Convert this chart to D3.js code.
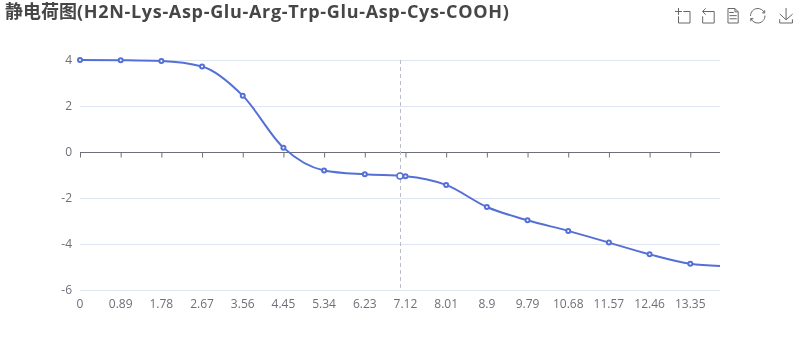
<!DOCTYPE html>
<html>
<head>
<meta charset="utf-8">
<script src="https://cdn.jsdelivr.net/npm/d3@7/dist/d3.min.js"></script>
<style>html,body{margin:0;padding:0;background:#fff}svg{display:block;will-change:transform}</style>
</head>
<body>
<svg id="chart" width="800" height="360"></svg>
<script>
const titleCjk = "静电荷图";
const titleLatin = "(H2N-Lys-Asp-Glu-Arg-Trp-Glu-Asp-Cys-COOH)";
const phValues = [0,0.89,1.78,2.67,3.56,4.45,5.34,6.23,7.12,8.01,8.9,9.79,10.68,11.57,12.46,13.35];
const chargeValues = [4.0,3.99,3.96,3.72,2.45,0.19,-0.8,-0.97,-1.05,-1.43,-2.39,-2.97,-3.43,-3.94,-4.45,-4.86];
const endPh = 14;
const endCharge = -4.96;
const yTicks = [4,2,0,-2,-4,-6];
const hoverPh = 7.0;
const hoverCharge = -1.04;
const icons = [
 "M0,13.5h26.9 M13.5,26.9V0 M32.1,13.5H58V58H13.5 V32.1",
 "M22,1.4L9.9,13.5l12.3,12.3 M10.3,13.5H54.9v44.6 H10.3v-26",
 "M17.5,17.3H33 M17.5,17.3H33 M45.4,29.5h-28 M11.5,2v56H51V14.8L38.4,2H11.5z M38.4,2.2v12.7H51 M45.4,41.7h-28",
 "M3.8,33.4 M47,18.9h9.8V8.7 M56.3,20.1 C52.1,9,40.5,0.6,26.8,2.1C12.6,3.7,1.6,16.2,2.1,30.6 M13,41.1H3.1v10.2 M3.7,39.9c4.2,11.1,15.8,19.5,29.5,18 c14.2-1.6,25.2-14.1,24.7-28.5",
 "M4.7,22.9L29.3,45.5L54.7,23.4M4.6,43.6L4.6,58L53.8,58L53.8,43.6M29.2,45.1L29.2,0"
];
const iconX = [675,700,725,750,778.5];
const axisColor = "#6E7079", gridColor = "#E0E6F1", lineColor = "#5470D6";
const font = "'Open Sans','Noto Sans CJK SC',sans-serif";

const svg = d3.select("#chart");
const x = d3.scaleLinear().domain([0,endPh]).range([80,720]);
const y = d3.scaleLinear().domain([-6,4]).range([290,60]);

const title = svg.append("text").attr("x",5).attr("y",18).attr("font-family",font)
  .attr("font-size",18).attr("font-weight",700).attr("fill","#464646");
title.append("tspan").text(titleCjk);
title.append("tspan").attr("letter-spacing",0.68).text(titleLatin);

// grid
svg.append("g").selectAll("line").data(yTicks.filter(d=>d!==0)).join("line")
  .attr("x1",80).attr("x2",720).attr("y1",d=>Math.round(y(d))+.5).attr("y2",d=>Math.round(y(d))+.5)
  .attr("stroke",gridColor);

// y labels
const yAxis = d3.axisLeft(y).tickValues(yTicks).tickSize(0).tickPadding(8).tickFormat(d3.format("d"));
const gy = svg.append("g").attr("transform","translate(80,-0.5)").call(yAxis);
gy.select(".domain").remove();
gy.selectAll("text").attr("font-family",font).attr("font-size",12).attr("fill",axisColor);
gy.selectAll(".tick text").text(d=>String(d));

// x labels
const labelAxis = d3.axisBottom(x).tickValues(phValues).tickSize(0).tickPadding(8).tickFormat(d=>String(d));
const gl = svg.append("g").attr("transform","translate(-0.5,291)").call(labelAxis);
gl.select(".domain").remove();
gl.selectAll("text").attr("font-family",font).attr("font-size",12).attr("fill",axisColor);

// zero axis with ticks
const zeroAxis = d3.axisBottom(x).tickValues(phValues).tickSize(5).tickSizeOuter(0).tickFormat("");
const gz = svg.append("g").attr("transform",`translate(0,${Math.round(y(0))+.5})`).call(zeroAxis);
gz.select(".domain").attr("stroke",axisColor).attr("d","M80,0H720");
gz.selectAll("line").attr("stroke",axisColor);

// series
const allPh = phValues.concat([endPh]);
const allCharge = chargeValues.concat([endCharge]);
const line = d3.line().x((d,i)=>x(allPh[i])).y(d=>y(d)).curve(d3.curveMonotoneX);
svg.append("path").attr("d",line(allCharge)).attr("fill","none").attr("stroke",lineColor).attr("stroke-width",2);

svg.append("g").selectAll("circle").data(chargeValues).join("circle")
  .attr("cx",(d,i)=>x(phValues[i])).attr("cy",d=>y(d)).attr("r",2)
  .attr("fill","#fff").attr("stroke",lineColor).attr("stroke-width",2);

// hover pointer
svg.append("line").attr("x1",Math.round(x(hoverPh))+.5).attr("x2",Math.round(x(hoverPh))+.5).attr("y1",60).attr("y2",290)
  .attr("stroke","#B9BEC9").attr("stroke-dasharray","4 3");
svg.append("circle").attr("cx",x(hoverPh)).attr("cy",y(hoverCharge)).attr("r",3)
  .attr("fill","#fff").attr("stroke",lineColor).attr("stroke-width",1.5);

// toolbox
const iconScale = 15/58;
svg.append("g").selectAll("path").data(icons).join("path")
  .attr("transform",(d,i)=>`translate(${iconX[i]},8) scale(${iconScale})`)
  .attr("d",d=>d).attr("fill","none").attr("stroke","#666").attr("stroke-width",1/iconScale);
</script>
</body>
</html>
